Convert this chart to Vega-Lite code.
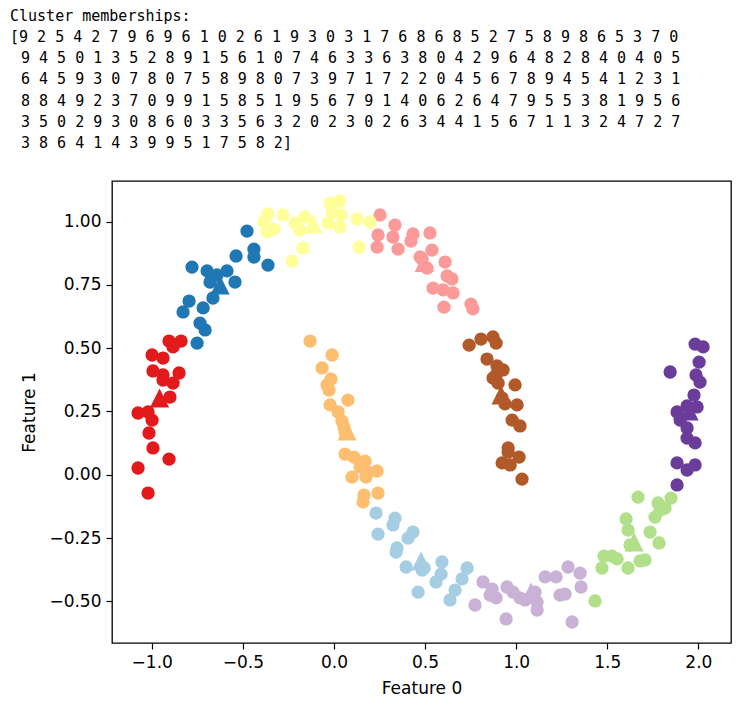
{
  "$schema": "https://vega.github.io/schema/vega-lite/v6.json",
  "width": 619,
  "height": 462,
  "autosize": {"type": "none"},
  "padding": {"left": 112, "top": 181, "right": 22, "bottom": 62},
  "background": "white",
  "config": {
    "view": {"stroke": "black", "strokeWidth": 1.3},
    "axis": {
      "labelFont": "DejaVu Sans", "labelFontSize": 17, "labelColor": "black",
      "titleFont": "DejaVu Sans", "titleFontSize": 17, "titleFontWeight": "normal", "titleColor": "black",
      "tickColor": "black", "tickSize": 6, "tickWidth": 1.2, "labelPadding": 5,
      "domain": false, "grid": false
    }
  },
  "title": {
    "text": [
      "Cluster memberships:",
      "[9 2 5 4 2 7 9 6 9 6 1 0 2 6 1 9 3 0 3 1 7 6 8 6 8 5 2 7 5 8 9 8 6 5 3 7 0",
      "\u28009 4 5 0 1 3 5 2 8 9 1 5 6 1 0 7 4 6 3 3 6 3 8 0 4 2 9 6 4 8 2 8 4 0 4 0 5",
      "\u28006 4 5 9 3 0 7 8 0 7 5 8 9 8 0 7 3 9 7 1 7 2 2 0 4 5 6 7 8 9 4 5 4 1 2 3 1",
      "\u28008 8 4 9 2 3 7 0 9 9 1 5 8 5 1 9 5 6 7 9 1 4 0 6 2 6 4 7 9 5 5 3 8 1 9 5 6",
      "\u28003 5 0 2 9 3 0 8 6 0 3 3 5 6 3 2 0 2 3 0 2 6 3 4 4 1 5 6 7 1 1 3 2 4 7 2 7",
      "\u28003 8 6 4 1 4 3 9 9 5 1 7 5 8 2]"
    ],
    "anchor": "start",
    "frame": "group",
    "font": "DejaVu Sans Mono",
    "fontSize": 15,
    "fontWeight": "normal",
    "color": "black",
    "lineHeight": 21.25,
    "offset": 30,
    "dx": -102
  },
  "datasets": {
    "pts": [
      {"x":0.231,"y":-0.151,"c":0},{"x":0.335,"y":-0.171,"c":0},{"x":0.324,"y":-0.198,"c":0},{"x":0.242,"y":-0.234,"c":0},{"x":0.434,"y":-0.226,"c":0},{"x":0.407,"y":-0.250,"c":0},{"x":0.346,"y":-0.289,"c":0},{"x":0.341,"y":-0.305,"c":0},{"x":0.396,"y":-0.364,"c":0},{"x":0.484,"y":-0.376,"c":0},{"x":0.593,"y":-0.344,"c":0},{"x":0.588,"y":-0.392,"c":0},{"x":0.560,"y":-0.423,"c":0},{"x":0.731,"y":-0.368,"c":0},{"x":0.703,"y":-0.411,"c":0},{"x":0.462,"y":-0.463,"c":0},{"x":0.665,"y":-0.455,"c":0},{"x":0.637,"y":-0.494,"c":0},{"x":0.495,"y":-0.368,"c":0},
      {"x":-0.477,"y":0.962,"c":1},{"x":-0.439,"y":0.891,"c":1},{"x":-0.439,"y":0.860,"c":1},{"x":-0.537,"y":0.864,"c":1},{"x":-0.362,"y":0.828,"c":1},{"x":-0.779,"y":0.820,"c":1},{"x":-0.696,"y":0.805,"c":1},{"x":-0.587,"y":0.805,"c":1},{"x":-0.642,"y":0.789,"c":1},{"x":-0.680,"y":0.761,"c":1},{"x":-0.543,"y":0.761,"c":1},{"x":-0.664,"y":0.698,"c":1},{"x":-0.795,"y":0.686,"c":1},{"x":-0.718,"y":0.659,"c":1},{"x":-0.828,"y":0.643,"c":1},{"x":-0.735,"y":0.599,"c":1},{"x":-0.707,"y":0.572,"c":1},{"x":-0.751,"y":0.520,"c":1},
      {"x":1.669,"y":-0.088,"c":2},{"x":1.779,"y":-0.111,"c":2},{"x":1.850,"y":-0.092,"c":2},{"x":1.817,"y":-0.131,"c":2},{"x":1.762,"y":-0.167,"c":2},{"x":1.603,"y":-0.174,"c":2},{"x":1.614,"y":-0.218,"c":2},{"x":1.735,"y":-0.226,"c":2},{"x":1.784,"y":-0.269,"c":2},{"x":1.482,"y":-0.321,"c":2},{"x":1.554,"y":-0.332,"c":2},{"x":1.471,"y":-0.368,"c":2},{"x":1.614,"y":-0.368,"c":2},{"x":1.680,"y":-0.340,"c":2},{"x":1.433,"y":-0.498,"c":2},{"x":1.625,"y":-0.277,"c":2},{"x":1.526,"y":-0.321,"c":2},{"x":1.790,"y":-0.139,"c":2},{"x":1.707,"y":-0.336,"c":2},
      {"x":0.253,"y":1.026,"c":3},{"x":0.335,"y":0.986,"c":3},{"x":0.242,"y":0.947,"c":3},{"x":0.237,"y":0.899,"c":3},{"x":0.324,"y":0.939,"c":3},{"x":0.352,"y":0.891,"c":3},{"x":0.434,"y":0.951,"c":3},{"x":0.423,"y":0.923,"c":3},{"x":0.527,"y":0.955,"c":3},{"x":0.538,"y":0.887,"c":3},{"x":0.473,"y":0.860,"c":3},{"x":0.610,"y":0.840,"c":3},{"x":0.621,"y":0.785,"c":3},{"x":0.648,"y":0.773,"c":3},{"x":0.544,"y":0.737,"c":3},{"x":0.599,"y":0.730,"c":3},{"x":0.654,"y":0.718,"c":3},{"x":0.604,"y":0.662,"c":3},{"x":0.752,"y":0.674,"c":3},{"x":0.763,"y":0.655,"c":3},{"x":0.484,"y":0.852,"c":3},{"x":0.511,"y":0.816,"c":3},
      {"x":-0.905,"y":0.528,"c":4},{"x":-0.839,"y":0.528,"c":4},{"x":-0.883,"y":0.505,"c":4},{"x":-0.998,"y":0.473,"c":4},{"x":-0.938,"y":0.461,"c":4},{"x":-0.993,"y":0.410,"c":4},{"x":-0.938,"y":0.394,"c":4},{"x":-0.850,"y":0.402,"c":4},{"x":-0.883,"y":0.362,"c":4},{"x":-0.938,"y":0.374,"c":4},{"x":-0.900,"y":0.307,"c":4},{"x":-1.075,"y":0.244,"c":4},{"x":-1.020,"y":0.248,"c":4},{"x":-0.998,"y":0.216,"c":4},{"x":-1.015,"y":0.165,"c":4},{"x":-0.993,"y":0.106,"c":4},{"x":-0.905,"y":0.062,"c":4},{"x":-1.075,"y":0.027,"c":4},{"x":-1.020,"y":-0.072,"c":4},
      {"x":-0.131,"y":0.528,"c":5},{"x":-0.010,"y":0.473,"c":5},{"x":-0.065,"y":0.422,"c":5},{"x":-0.016,"y":0.378,"c":5},{"x":-0.038,"y":0.355,"c":5},{"x":-0.027,"y":0.335,"c":5},{"x":0.077,"y":0.295,"c":5},{"x":-0.021,"y":0.276,"c":5},{"x":0.023,"y":0.248,"c":5},{"x":0.044,"y":0.212,"c":5},{"x":0.055,"y":0.189,"c":5},{"x":0.061,"y":0.082,"c":5},{"x":0.110,"y":0.070,"c":5},{"x":0.171,"y":0.054,"c":5},{"x":0.143,"y":0.031,"c":5},{"x":0.237,"y":0.015,"c":5},{"x":0.187,"y":0.011,"c":5},{"x":0.099,"y":-0.009,"c":5},{"x":0.176,"y":-0.009,"c":5},{"x":0.242,"y":-0.072,"c":5},{"x":0.165,"y":-0.080,"c":5},{"x":0.160,"y":-0.107,"c":5},{"x":0.061,"y":0.169,"c":5},
      {"x":0.818,"y":-0.423,"c":6},{"x":0.868,"y":-0.451,"c":6},{"x":0.857,"y":-0.475,"c":6},{"x":0.890,"y":-0.486,"c":6},{"x":0.950,"y":-0.443,"c":6},{"x":0.983,"y":-0.463,"c":6},{"x":0.774,"y":-0.514,"c":6},{"x":0.945,"y":-0.569,"c":6},{"x":1.049,"y":-0.494,"c":6},{"x":1.104,"y":-0.463,"c":6},{"x":1.115,"y":-0.502,"c":6},{"x":1.115,"y":-0.534,"c":6},{"x":1.159,"y":-0.403,"c":6},{"x":1.219,"y":-0.403,"c":6},{"x":1.241,"y":-0.475,"c":6},{"x":1.268,"y":-0.471,"c":6},{"x":1.285,"y":-0.364,"c":6},{"x":1.351,"y":-0.388,"c":6},{"x":1.356,"y":-0.443,"c":6},{"x":1.307,"y":-0.581,"c":6},{"x":1.021,"y":-0.486,"c":6},
      {"x":1.982,"y":0.516,"c":7},{"x":2.026,"y":0.505,"c":7},{"x":2.004,"y":0.445,"c":7},{"x":1.845,"y":0.406,"c":7},{"x":1.987,"y":0.394,"c":7},{"x":2.009,"y":0.366,"c":7},{"x":1.976,"y":0.315,"c":7},{"x":1.993,"y":0.268,"c":7},{"x":1.938,"y":0.272,"c":7},{"x":1.883,"y":0.248,"c":7},{"x":1.900,"y":0.216,"c":7},{"x":1.938,"y":0.185,"c":7},{"x":1.938,"y":0.145,"c":7},{"x":1.982,"y":0.126,"c":7},{"x":1.883,"y":0.047,"c":7},{"x":1.982,"y":0.039,"c":7},{"x":1.938,"y":0.019,"c":7},{"x":1.883,"y":-0.040,"c":7},
      {"x":-0.362,"y":1.030,"c":8},{"x":-0.279,"y":1.026,"c":8},{"x":-0.367,"y":0.959,"c":8},{"x":-0.329,"y":0.970,"c":8},{"x":-0.213,"y":0.994,"c":8},{"x":-0.159,"y":1.018,"c":8},{"x":-0.230,"y":0.844,"c":8},{"x":-0.170,"y":0.895,"c":8},{"x":-0.021,"y":1.073,"c":8},{"x":0.033,"y":1.081,"c":8},{"x":-0.032,"y":0.994,"c":8},{"x":0.033,"y":0.978,"c":8},{"x":0.039,"y":1.026,"c":8},{"x":0.127,"y":1.010,"c":8},{"x":0.138,"y":0.899,"c":8},{"x":0.198,"y":0.998,"c":8},{"x":-0.186,"y":0.966,"c":8},{"x":-0.010,"y":1.037,"c":8},{"x":-0.384,"y":0.998,"c":8},
      {"x":0.742,"y":0.512,"c":9},{"x":0.807,"y":0.536,"c":9},{"x":0.873,"y":0.544,"c":9},{"x":0.890,"y":0.520,"c":9},{"x":0.840,"y":0.457,"c":9},{"x":0.928,"y":0.414,"c":9},{"x":0.890,"y":0.394,"c":9},{"x":0.901,"y":0.362,"c":9},{"x":0.994,"y":0.355,"c":9},{"x":0.939,"y":0.280,"c":9},{"x":1.005,"y":0.276,"c":9},{"x":0.978,"y":0.216,"c":9},{"x":1.021,"y":0.193,"c":9},{"x":0.956,"y":0.106,"c":9},{"x":1.016,"y":0.070,"c":9},{"x":0.923,"y":0.047,"c":9},{"x":0.967,"y":0.039,"c":9},{"x":1.032,"y":-0.017,"c":9},{"x":0.895,"y":0.430,"c":9},{"x":0.873,"y":0.382,"c":9},{"x":0.923,"y":0.303,"c":9},{"x":0.956,"y":0.090,"c":9}
    ],
    "ctr": [
      {"x":0.478,"y":-0.344,"c":0},{"x":-0.625,"y":0.745,"c":1},{"x":1.647,"y":-0.269,"c":2},{"x":0.495,"y":0.834,"c":3},{"x":-0.957,"y":0.299,"c":4},
      {"x":0.072,"y":0.169,"c":5},{"x":1.082,"y":-0.467,"c":6},{"x":1.949,"y":0.248,"c":7},{"x":-0.115,"y":0.986,"c":8},{"x":0.917,"y":0.311,"c":9}
    ]
  },
  "layer": [
    {
      "data": {"name": "pts"},
      "mark": {"type": "point", "shape": "circle", "filled": true, "size": 177, "opacity": 1, "strokeWidth": 0},
      "encoding": {
        "x": {"field": "x", "type": "quantitative", "scale": {"domain": [-1.218, 2.179], "nice": false, "zero": false},
              "axis": {"values": [-1, -0.5, 0, 0.5, 1, 1.5, 2], "format": ".1f", "title": "Feature 0", "titlePadding": 10}},
        "y": {"field": "y", "type": "quantitative", "scale": {"domain": [-0.664, 1.16], "nice": false, "zero": false},
              "axis": {"values": [-0.5, -0.25, 0, 0.25, 0.5, 0.75, 1], "format": ".2f", "title": "Feature 1", "titlePadding": 10}},
        "fill": {"field": "c", "type": "nominal", "legend": null,
                 "scale": {"domain": [0,1,2,3,4,5,6,7,8,9], "range": ["#a6cee3","#1f78b4","#b2df8a","#fb9a99","#e31a1c","#fdbf6f","#cab2d6","#6a3d9a","#ffff99","#b15928"]}}
      }
    },
    {
      "data": {"name": "ctr"},
      "mark": {"type": "point", "shape": "M0,-1L1,1L-1,1Z", "filled": true, "size": 181, "opacity": 1, "strokeWidth": 3.5, "strokeJoin": "miter"},
      "encoding": {
        "x": {"field": "x", "type": "quantitative"},
        "y": {"field": "y", "type": "quantitative"},
        "fill": {"field": "c", "type": "nominal", "legend": null},
        "stroke": {"field": "c", "type": "nominal", "legend": null,
                   "scale": {"domain": [0,1,2,3,4,5,6,7,8,9], "range": ["#a6cee3","#1f78b4","#b2df8a","#fb9a99","#e31a1c","#fdbf6f","#cab2d6","#6a3d9a","#ffff99","#b15928"]}}
      }
    }
  ]
}
